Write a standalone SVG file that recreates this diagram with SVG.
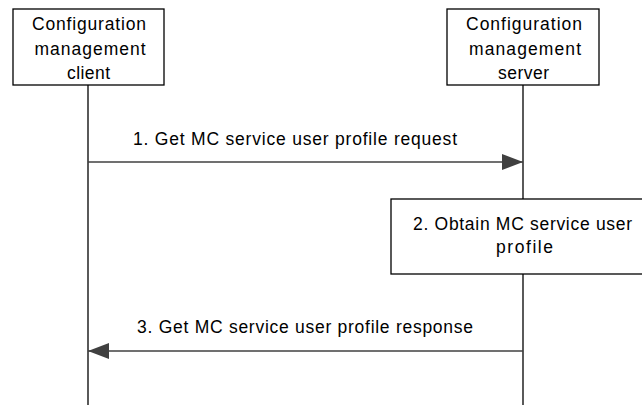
<svg xmlns="http://www.w3.org/2000/svg" width="642" height="405" viewBox="0 0 642 405">
<defs>
<marker id="ah" markerWidth="21" markerHeight="16" refX="21" refY="8" orient="auto" markerUnits="userSpaceOnUse">
<path d="M0,0 L21,8 L0,16 Z" fill="#404040"/>
</marker>
<style>
.box{fill:#fff;stroke:#000;stroke-width:1.3}
.life{stroke:#000;stroke-width:1.3;fill:none}
.msg{stroke:#404040;stroke-width:1.3;fill:none}
text{font-family:"Liberation Sans",Arial,sans-serif;font-size:17.5px;fill:#000}
.c{text-anchor:middle}
</style>
</defs>
<g id="lifelines">
<line class="life" x1="88" y1="85" x2="88" y2="405"/>
<line class="life" x1="523" y1="85" x2="523" y2="405"/>
</g>
<g id="client">
<rect class="box" x="13" y="9" width="151" height="76"/>
<text class="c" x="89" y="30" textLength="114" lengthAdjust="spacing">Configuration</text>
<text class="c" x="90" y="55" textLength="111" lengthAdjust="spacing">management</text>
<text class="c" x="88.5" y="79" textLength="43" lengthAdjust="spacing">client</text>
</g>
<g id="server">
<rect class="box" x="447" y="9" width="152" height="76"/>
<text class="c" x="524" y="30" textLength="116" lengthAdjust="spacing">Configuration</text>
<text class="c" x="525" y="55" textLength="112" lengthAdjust="spacing">management</text>
<text class="c" x="523.5" y="79" textLength="51" lengthAdjust="spacing">server</text>
</g>
<g id="step2">
<rect class="box" x="391" y="199" width="252" height="75"/>
<text class="c" x="522.5" y="230" textLength="219" lengthAdjust="spacing">2. Obtain MC service user</text>
<text class="c" x="524.5" y="253" textLength="57" lengthAdjust="spacing">profile</text>
</g>
<g id="connectors">
<line class="msg" x1="88" y1="162" x2="523" y2="162" marker-end="url(#ah)"/>
<text class="c" x="295" y="145" textLength="324" lengthAdjust="spacing">1. Get MC service user profile request</text>
<line class="msg" x1="523" y1="351" x2="88" y2="351" marker-end="url(#ah)"/>
<text class="c" x="305" y="333" textLength="336" lengthAdjust="spacing">3. Get MC service user profile response</text>
</g>
</svg>
